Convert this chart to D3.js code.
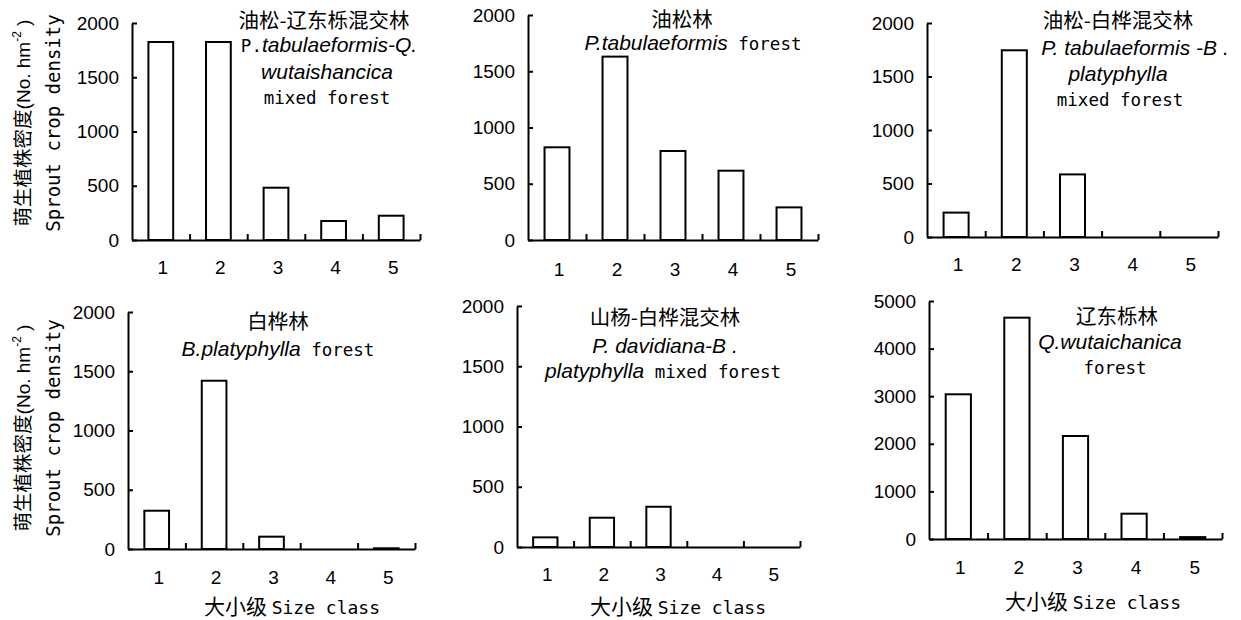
<!DOCTYPE html>
<html>
<head>
<meta charset="utf-8">
<script src="https://cdn.jsdelivr.net/npm/d3@7"></script>
<style>
  body { margin: 0; background: #fff; }
  svg { display: block; }
  .axis path, .axis line { stroke: #000; stroke-width: 2px; }
  .axis text { font-family: "Liberation Sans", Arial, sans-serif; font-size: 19px; fill: #000; }
</style>
</head>
<body>
<div id="chart"></div>
<script>
// Size classes on the x axis
const sizeClasses = ["1", "2", "3", "4", "5"];

// Sprout crop density (No. hm-2) per size class, one array per stand
const pqMixed = [1825, 1825, 482, 175, 224];
const ptForest = [824, 1630, 791, 616, 290];
const pbMixed = [228, 1745, 585, 0, 0];
const bpForest = [323, 1420, 104, 0, 6];
const pdbMixed = [80, 243, 334, 0, 0];
const qwForest = [3040, 4650, 2164, 532, 40];

// Y axis maxima and tick steps
const yMax = [2000, 2000, 2000, 2000, 2000, 5000];
const yStep = [500, 500, 500, 500, 500, 1000];

// Panel titles (*...* = italic)
const titles = [
  ["油松-辽东栎混交林", "P.*tabulaeformis-Q.*", "*wutaishancica*", "mixed forest"],
  ["油松林", "*P.tabulaeformis* forest"],
  ["油松-白桦混交林", "*P. tabulaeformis -B .*", "*platyphylla*", "mixed forest"],
  ["白桦林", "*B.platyphylla* forest"],
  ["山杨-白桦混交林", "*P. davidiana-B .*", "*platyphylla* mixed forest"],
  ["辽东栎林", "*Q.wutaichanica*", "forest"]
];

const seriesList = [pqMixed, ptForest, pbMixed, bpForest, pdbMixed, qwForest];

// Layout of each panel in the 1241x620 picture
const layout = [
  {x0: 132, x1: 420, yTop: 23, y0: 240, labelY: 270, t: [[324, 22], [329, 46], [327, 73], [327, 98]]},
  {x0: 528, x1: 818, yTop: 15, y0: 240, labelY: 272, t: [[682, 21], [693, 44]]},
  {x0: 927, x1: 1218, yTop: 23, y0: 237, labelY: 267, t: [[1118, 22], [1135, 49], [1118, 75], [1120, 100]]},
  {x0: 128, x1: 415, yTop: 312, y0: 549, labelY: 580, t: [[278, 323], [278, 350]], xt: [292, 608]},
  {x0: 517, x1: 800, yTop: 306, y0: 547, labelY: 577, t: [[665, 319], [665, 347], [663, 372]], xt: [678, 608]},
  {x0: 929, x1: 1222, yTop: 301, y0: 539, labelY: 570, t: [[1117, 318], [1110, 343], [1115, 368]], xt: [1093, 603]}
];

const cjkFont = '"Noto Sans CJK SC", sans-serif';
const monoFont = '"DejaVu Sans Mono", monospace';
const italFont = '"Liberation Sans", Arial, sans-serif';

const svg = d3.select("#chart").append("svg")
  .attr("width", 1241)
  .attr("height", 620);

// Writes a title line, splitting *italic* parts from the rest.
function writeLine(sel, line) {
  if (/[\u4e00-\u9fff]/.test(line)) {
    sel.append("tspan").style("font-family", cjkFont).style("font-size", "20.5px").text(line);
    return;
  }
  line.split("*").forEach((part, i) => {
    if (!part) return;
    const ts = sel.append("tspan").text(part);
    if (i % 2 === 1) {
      ts.style("font-family", italFont).style("font-style", "italic").style("font-size", "21px");
    } else {
      ts.style("font-family", monoFont).style("font-size", "17.5px");
    }
  });
}

seriesList.forEach((values, p) => {
  const L = layout[p];
  const g = svg.append("g");

  const x = d3.scaleBand().domain(sizeClasses).range([L.x0, L.x1])
    .paddingInner(0.57).paddingOuter(0.285);
  const xEdge = d3.scaleLinear().domain([0, sizeClasses.length]).range([L.x0, L.x1]);
  const y = d3.scaleLinear().domain([0, yMax[p]]).range([L.y0, L.yTop]);

  // bars
  g.selectAll("rect")
    .data(values)
    .join("rect")
      .attr("x", (d, i) => x(sizeClasses[i]))
      .attr("y", d => y(d))
      .attr("width", x.bandwidth())
      .attr("height", d => L.y0 - y(d))
      .style("fill", "#fff")
      .style("stroke", "#000")
      .style("stroke-width", 2);

  // y axis
  g.append("g").attr("class", "axis")
    .attr("transform", `translate(${L.x0},0)`)
    .call(d3.axisLeft(y).tickValues(d3.range(0, yMax[p] + 1, yStep[p]))
      .tickSizeInner(-5).tickSizeOuter(0).tickPadding(13).tickFormat(d3.format("d")));

  // x axis with ticks between the classes
  g.append("g").attr("class", "axis")
    .attr("transform", `translate(0,${L.y0})`)
    .call(d3.axisBottom(xEdge).tickValues(d3.range(1, sizeClasses.length + 1))
      .tickSizeInner(-6).tickSizeOuter(0).tickFormat(""));

  // x tick labels
  g.append("g").attr("class", "axis")
    .attr("transform", `translate(2,${L.labelY - 10})`)
    .call(d3.axisBottom(x).tickSize(0).tickPadding(0))
    .select(".domain").remove();

  // title
  titles[p].forEach((line, i) => {
    const t = g.append("text")
      .attr("x", L.t[i][0])
      .attr("y", L.t[i][1])
      .attr("dy", "0.36em")
      .attr("text-anchor", "middle")
      .style("fill", "#000");
    writeLine(t, line);
  });

  // x axis title (bottom row)
  if (L.xt) {
    const t = g.append("text")
      .attr("x", L.xt[0]).attr("y", L.xt[1]).attr("dy", "0.36em")
      .attr("text-anchor", "middle");
    t.append("tspan").style("font-family", cjkFont).style("font-size", "21px").text("大小级 ");
    t.append("tspan").style("font-family", monoFont).style("font-size", "18px").text("Size class");
  }
});

// y axis titles, one per row
[123, 428].forEach(cy => {
  const t1 = svg.append("text")
    .attr("transform", `translate(24,${cy}) rotate(-90)`)
    .attr("dy", "0.36em")
    .attr("text-anchor", "middle");
  t1.append("tspan").style("font-family", cjkFont).style("font-size", "19.5px").text("萌生植株密度");
  t1.append("tspan").style("font-family", italFont).style("font-size", "19px").text("(No. hm");
  t1.append("tspan").style("font-family", italFont).style("font-size", "12px").attr("dy", "-0.7em").text("-2");
  t1.append("tspan").style("font-family", italFont).style("font-size", "19px").attr("dy", "0.45em").text(" )");

  svg.append("text")
    .attr("transform", `translate(53,${cy}) rotate(-90)`)
    .attr("dy", "0.36em")
    .attr("text-anchor", "middle")
    .style("font-family", monoFont)
    .style("font-size", "19px")
    .text("Sprout crop density");
});
</script>
</body>
</html>
